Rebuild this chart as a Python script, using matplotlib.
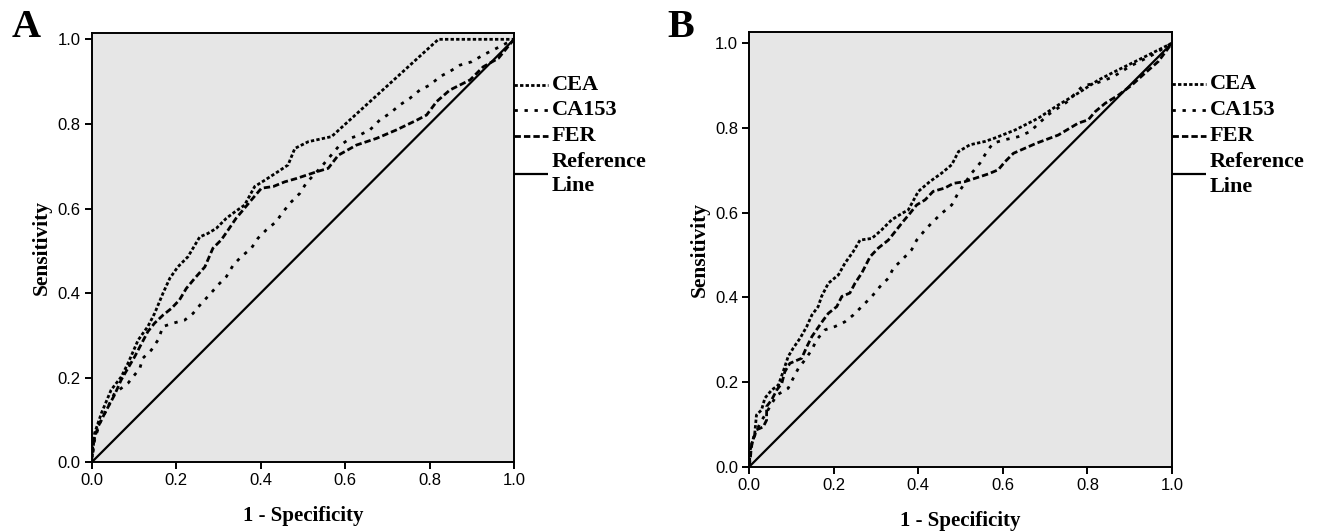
import numpy as np
import matplotlib
matplotlib.use("Agg")
import matplotlib.pyplot as plt

plt.rcParams['lines.scale_dashes'] = False

# ROC curves, panel A
a_cea_x = [0, 0.007, 0.023, 0.046, 0.070, 0.086, 0.110, 0.133, 0.149, 0.169, 0.185, 0.204, 0.228, 0.256,
           0.275, 0.295, 0.319, 0.339, 0.362, 0.386, 0.410, 0.441, 0.465, 0.481, 0.513, 0.568, 0.821, 1.0]
a_cea_y = [0, 0.069, 0.116, 0.171, 0.202, 0.234, 0.289, 0.321, 0.352, 0.400, 0.435, 0.462, 0.486, 0.533,
           0.541, 0.553, 0.577, 0.592, 0.608, 0.652, 0.667, 0.687, 0.703, 0.742, 0.758, 0.770, 1.0, 1.0]

a_ca153_x = [0, 0.007, 0.019, 0.035, 0.054, 0.086, 0.098, 0.114, 0.121, 0.141, 0.157, 0.169, 0.193, 0.220,
             0.240, 0.260, 0.279, 0.299, 0.319, 0.335, 0.354, 0.378, 0.394, 0.413, 0.437, 0.453, 0.473, 0.493,
             0.508, 0.545, 0.584, 0.612, 0.635, 0.659, 0.682, 0.706, 0.730, 0.754, 0.777, 0.801, 0.825, 0.848,
             0.872, 0.900, 0.927, 0.959, 1.0]
a_ca153_y = [0, 0.053, 0.092, 0.124, 0.163, 0.187, 0.202, 0.222, 0.246, 0.265, 0.289, 0.321, 0.329, 0.336,
             0.352, 0.376, 0.396, 0.419, 0.439, 0.466, 0.486, 0.506, 0.530, 0.549, 0.569, 0.592, 0.616, 0.636,
             0.660, 0.700, 0.746, 0.766, 0.774, 0.786, 0.809, 0.825, 0.845, 0.861, 0.880, 0.892, 0.912, 0.924,
             0.939, 0.947, 0.963, 0.979, 1.0]

a_fer_x = [0, 0.003, 0.015, 0.031, 0.054, 0.070, 0.102, 0.133, 0.149, 0.169, 0.189, 0.208, 0.224, 0.244,
           0.268, 0.287, 0.307, 0.323, 0.342, 0.358, 0.378, 0.402, 0.430, 0.457, 0.485, 0.533, 0.560, 0.584,
           0.627, 0.675, 0.722, 0.770, 0.793, 0.817, 0.848, 0.896, 0.927, 0.963, 1.0]
a_fer_y = [0, 0.045, 0.084, 0.116, 0.159, 0.195, 0.250, 0.309, 0.329, 0.348, 0.364, 0.384, 0.411, 0.435,
           0.462, 0.506, 0.526, 0.549, 0.577, 0.596, 0.620, 0.648, 0.652, 0.663, 0.671, 0.687, 0.695, 0.726,
           0.750, 0.766, 0.786, 0.809, 0.821, 0.853, 0.880, 0.904, 0.935, 0.955, 1.0]

# panel B
b_cea_x = [0, 0.002, 0.013, 0.017, 0.029, 0.037, 0.053, 0.069, 0.080, 0.092, 0.104, 0.120, 0.136, 0.148,
           0.163, 0.171, 0.187, 0.211, 0.226, 0.246, 0.262, 0.290, 0.313, 0.337, 0.361, 0.376, 0.400, 0.427,
           0.455, 0.479, 0.495, 0.522, 0.558, 0.581, 0.629, 0.684, 0.731, 0.778, 0.826, 0.873, 0.920, 0.968, 1.0]
b_cea_y = [0, 0.039, 0.079, 0.122, 0.134, 0.162, 0.181, 0.193, 0.224, 0.260, 0.280, 0.303, 0.331, 0.358,
           0.378, 0.402, 0.433, 0.453, 0.480, 0.508, 0.535, 0.539, 0.559, 0.583, 0.598, 0.606, 0.650, 0.673,
           0.693, 0.713, 0.744, 0.760, 0.768, 0.776, 0.795, 0.823, 0.854, 0.882, 0.913, 0.937, 0.960, 0.984, 1.0]

b_ca153_x = [0, 0.007, 0.025, 0.045, 0.065, 0.092, 0.104, 0.116, 0.130, 0.148, 0.159, 0.179, 0.203, 0.226,
             0.246, 0.270, 0.290, 0.309, 0.329, 0.341, 0.361, 0.384, 0.396, 0.416, 0.435, 0.455, 0.479, 0.494,
             0.526, 0.546, 0.562, 0.577, 0.605, 0.636, 0.664, 0.707, 0.750, 0.790, 0.820, 0.860, 0.900, 0.950,
             0.975, 1.0]
b_ca153_y = [0, 0.060, 0.102, 0.135, 0.169, 0.185, 0.209, 0.232, 0.250, 0.276, 0.299, 0.323, 0.331, 0.342,
             0.358, 0.382, 0.402, 0.425, 0.445, 0.469, 0.488, 0.512, 0.535, 0.559, 0.579, 0.598, 0.618, 0.646,
             0.693, 0.717, 0.744, 0.764, 0.772, 0.779, 0.791, 0.831, 0.860, 0.900, 0.905, 0.920, 0.945, 0.970,
             0.985, 1.0]

b_fer_x = [0, 0.006, 0.017, 0.033, 0.041, 0.041, 0.053, 0.065, 0.077, 0.084, 0.096, 0.124, 0.136, 0.148,
           0.159, 0.175, 0.187, 0.207, 0.219, 0.238, 0.250, 0.266, 0.286, 0.305, 0.329, 0.345, 0.364, 0.380,
           0.396, 0.416, 0.435, 0.463, 0.483, 0.510, 0.565, 0.589, 0.605, 0.625, 0.680, 0.731, 0.778, 0.802,
           0.818, 0.842, 0.873, 0.905, 0.936, 0.968, 1.0]
b_fer_y = [0, 0.055, 0.087, 0.094, 0.110, 0.142, 0.158, 0.181, 0.197, 0.224, 0.244, 0.256, 0.283, 0.307,
           0.323, 0.346, 0.362, 0.378, 0.402, 0.410, 0.433, 0.457, 0.496, 0.516, 0.535, 0.555, 0.579, 0.598,
           0.618, 0.630, 0.650, 0.658, 0.669, 0.673, 0.691, 0.701, 0.720, 0.740, 0.764, 0.783, 0.811, 0.819,
           0.838, 0.858, 0.877, 0.901, 0.929, 0.957, 1.0]

ref_x = [0, 1]
ref_y = [0, 1]

labels = ['CEA', 'CA153', 'FER', 'Reference\nLine']
ticks = [0.0, 0.2, 0.4, 0.6, 0.8, 1.0]

SERIF = ['Liberation Serif', 'DejaVu Serif']
SANS = ['Liberation Sans', 'DejaVu Sans']

styles = [
    dict(color='black', lw=2.0, dashes=(2.4, 1.6)),   # CEA
    dict(color='black', lw=2.0, dashes=(2.4, 4.8)),   # CA153
    dict(color='black', lw=2.0, dashes=(4.6, 2.2)),   # FER
    dict(color='black', lw=1.6, linestyle='-'),       # reference
]
legend_y = [0.879, 0.820, 0.760, 0.672]


def draw_panel(ax, curves, ytop, letter, letter_x):
    ax.set_facecolor('#e6e6e6')
    for (x, y), st in zip(curves, styles):
        ax.plot(x, y, solid_capstyle='butt', dash_capstyle='butt', **st)
    ax.set_xlim(0, 1)
    ax.set_ylim(0, ytop)
    ax.set_xticks(ticks)
    ax.set_yticks(ticks)
    ax.set_xticklabels(['%.1f' % t for t in ticks], family=SANS, fontsize=12)
    ax.set_yticklabels(['%.1f' % t for t in ticks], family=SANS, fontsize=12)
    ax.tick_params(direction='out', length=5, width=1.4, pad=3, colors='black')
    for s in ax.spines.values():
        s.set_linewidth(1.4)
    ax.set_xlabel('1 - Specificity', family=SERIF, fontweight='bold', fontsize=15)
    ax.set_ylabel('Sensitivity', family=SERIF, fontweight='bold', fontsize=15.5)
    ax.xaxis.set_label_coords(0.5, -0.125)
    ax.xaxis.label.set_verticalalignment('center')
    ax.yaxis.set_label_coords(-0.117, 0.5)
    ax.yaxis.label.set_verticalalignment('center')

    # legend drawn beside the frame, as in the original
    for lab, st, ly in zip(labels, styles, legend_y):
        ax.plot([1.0, 1.08], [ly, ly], transform=ax.transAxes, clip_on=False,
                solid_capstyle='butt', dash_capstyle='butt', **st)
        ax.text(1.09, ly, lab, transform=ax.transAxes, ha='left', va='center',
                family=SERIF, fontweight='bold', fontsize=16, linespacing=1.3)

    fig.text(letter_x, 0.930, letter, family=SERIF, fontweight='bold', fontsize=29,
             ha='left', va='baseline')


fig = plt.figure(figsize=(13.21, 5.31), dpi=100)
ax_a = fig.add_axes([0.0694, 0.1294, 0.3197, 0.8085])
ax_b = fig.add_axes([0.5672, 0.1211, 0.3200, 0.8192])

draw_panel(ax_a, [(a_cea_x, a_cea_y), (a_ca153_x, a_ca153_y), (a_fer_x, a_fer_y), (ref_x, ref_y)],
           1.015, 'A', 0.0091)
draw_panel(ax_b, [(b_cea_x, b_cea_y), (b_ca153_x, b_ca153_y), (b_fer_x, b_fer_y), (ref_x, ref_y)],
           1.027, 'B', 0.505)

fig.savefig('out.png', dpi=100)
